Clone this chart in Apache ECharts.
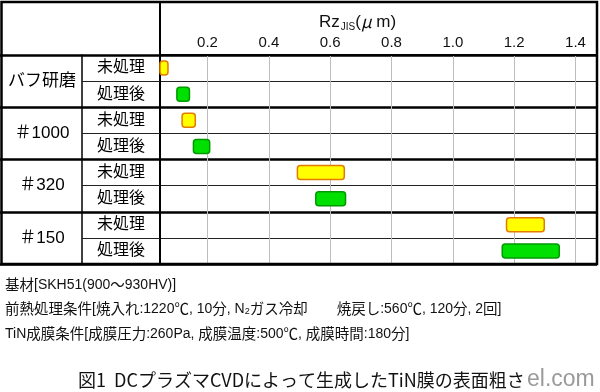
<!DOCTYPE html>
<html><head><meta charset="utf-8">
<script src="https://cdn.jsdelivr.net/npm/echarts@6/dist/echarts.min.js"></script>
<style>html,body{margin:0;padding:0;background:#fff}#c{width:600px;height:392px}</style>
</head><body><div id="c"></div>
<script>
// ---- data ----
const groups = ['バフ研磨', '＃1000', '＃320', '＃150'];
const treatments = ['未処理', '処理後'];
const untreatedStart = [0.045, 0.117, 0.493, 1.175];
const untreatedEnd   = [0.071, 0.160, 0.646, 1.298];
const treatedStart   = [0.100, 0.154, 0.553, 1.161];
const treatedEnd     = [0.141, 0.207, 0.650, 1.347];
const xTicks = [0.2, 0.4, 0.6, 0.8, 1.0, 1.2, 1.4];
const xMin = 0.045, xMax = 1.47;

const FONT = "'Liberation Sans', 'Noto Sans CJK JP', sans-serif";
const LAT = "'Liberation Sans', sans-serif";
const CJK = "'Noto Sans CJK JP', sans-serif";
const rows = [];
groups.forEach(() => treatments.forEach(t => rows.push(t)));
const untreatedData = groups.map((g, i) => [i * 2, untreatedStart[i], untreatedEnd[i]]);
const treatedData = groups.map((g, i) => [i * 2 + 1, treatedStart[i], treatedEnd[i]]);

function makeRender(fill, stroke) {
  return function (params, api) {
    const cat = api.value(0);
    const p0 = api.coord([api.value(1), cat]);
    const p1 = api.coord([api.value(2), cat]);
    const h = api.size([0, 1])[1] * 0.54;
    return {
      type: 'rect',
      shape: { x: p0[0], y: p0[1] - h / 2, width: p1[0] - p0[0], height: h, r: 3 },
      style: { fill: fill, stroke: stroke, lineWidth: 1.5 }
    };
  };
}

// mixed CJK / Latin rich text
const CJKRE = /[\u2100-\u214f\u3000-\u9fff\uff00-\uffef]/;
function mixed(parts, cj, la) {
  let txt = '';
  parts.forEach(p => {
    if (p.sub) { txt += '{s|' + p.t + '}'; return; }
    const runs = p.t.match(/[\u2100-\u214f\u3000-\u9fff\uff00-\uffef]+|[^\u2100-\u214f\u3000-\u9fff\uff00-\uffef]+/g);
    runs.forEach(r => { txt += (CJKRE.test(r[0]) ? '{c|' : '{l|') + r + '}'; });
  });
  return {
    text: txt, textVerticalAlign: 'middle',
    rich: {
      c: { fontSize: cj, fontFamily: CJK, fill: '#111', verticalAlign: 'bottom', lineHeight: 16 },
      l: { fontSize: la, fontFamily: LAT, fill: '#111', verticalAlign: 'bottom', lineHeight: 12.5 },
      s: { fontSize: 9, fontFamily: LAT, fill: '#111', verticalAlign: 'bottom', lineHeight: 6 }
    }
  };
}

const chart = echarts.init(document.getElementById('c'), null, { renderer: 'canvas' });
chart.setOption({
  animation: false,
  grid: { left: 160, right: 3, top: 55, bottom: 128, containLabel: false },
  xAxis: {
    type: 'value', position: 'top', min: xMin, max: xMax,
    axisLine: { show: true, lineStyle: { color: '#000', width: 2 } },
    axisTick: { show: false, customValues: xTicks },
    axisLabel: { customValues: xTicks, fontSize: 15, color: '#111', fontFamily: FONT, margin: 5,
      formatter: v => v.toFixed(1) },
    splitLine: { show: true, lineStyle: { color: '#bdbdbd', width: 1 } }
  },
  yAxis: [
    {
      type: 'category', data: rows, inverse: true, position: 'left',
      axisLine: { show: true, lineStyle: { color: '#000', width: 2 } },
      axisTick: { show: true, length: 78, lineStyle: { color: '#222', width: 1 } },
      axisLabel: { fontSize: 16, color: '#000', fontFamily: FONT, align: 'center', margin: 39 },
      splitLine: { show: true, lineStyle: { color: '#222', width: 1 } }
    },
    {
      type: 'category', data: groups, inverse: true, position: 'left', offset: 0,
      axisLine: { show: false },
      axisTick: { show: true, length: 160, lineStyle: { color: '#000', width: 2.5 } },
      axisLabel: { fontSize: 17, color: '#000', fontFamily: FONT, align: 'center', margin: 118 },
      splitLine: { show: true, lineStyle: { color: '#000', width: 2.5 } }
    },
    {
      type: 'category', data: groups, inverse: true, position: 'left', offset: 78,
      axisLine: { show: true, lineStyle: { color: '#000', width: 1.5 } },
      axisTick: { show: false }, axisLabel: { show: false }, splitLine: { show: false }
    }
  ],
  series: [
    { type: 'custom', name: '未処理', yAxisIndex: 0, renderItem: makeRender('#ffff00', '#e57a00'),
      encode: { x: [1, 2], y: 0 }, data: untreatedData, z: 10 },
    { type: 'custom', name: '処理後', yAxisIndex: 0, renderItem: makeRender('#00e000', '#009a00'),
      encode: { x: [1, 2], y: 0 }, data: treatedData, z: 10 }
  ],
  graphic: [
    { type: 'rect', z: 100, shape: { x: 1.5, y: 2, width: 595.5, height: 262 },
      style: { fill: 'none', stroke: '#000', lineWidth: 2.5 } },
    { type: 'line', z: 100, shape: { x1: 160, y1: 2, x2: 160, y2: 55 },
      style: { stroke: '#000', lineWidth: 2 } },
    { type: 'text', x: 319, y: 22, z: 100, style: {
        text: '{a|Rz}{s|JIS}{a|(}{m|μ}{a| m)}', textVerticalAlign: 'middle',
        rich: { a: { fontSize: 17, fontFamily: FONT, fill: '#111' },
                m: { fontSize: 17, fontFamily: CJK, fill: '#111', fontStyle: 'italic' },
                s: { fontSize: 10, fontFamily: FONT, fill: '#111', padding: [10, 0, 0, 1] } } } },
    { type: 'text', x: 5, y: 284, style: mixed([{ t: '基材[SKH51(900～930HV)]' }], 14.5, 14) },
    { type: 'text', x: 5, y: 308, style: mixed([
        { t: '前熱処理条件[焼入れ:1220℃, 10分, N' }, { t: '2', sub: true },
        { t: 'ガス冷却　　焼戻し:560℃, 120分, 2回]' }], 14.5, 14) },
    { type: 'text', x: 5, y: 333, style: mixed([{ t: 'TiN成膜条件[成膜圧力:260Pa, 成膜温度:500℃, 成膜時間:180分]' }], 14.5, 14) },
    { type: 'text', x: 78, y: 380, style: { text: '図1  DCプラズマCVDによって生成したTiN膜の表面粗さ', font: '18px ' + CJK, fill: '#111', textVerticalAlign: 'middle' } },
    { type: 'text', x: 527, y: 380, style: { text: 'el.com', font: '23px ' + FONT, fill: '#9a9a9a', textVerticalAlign: 'middle' } }
  ]
});
</script></body></html>
